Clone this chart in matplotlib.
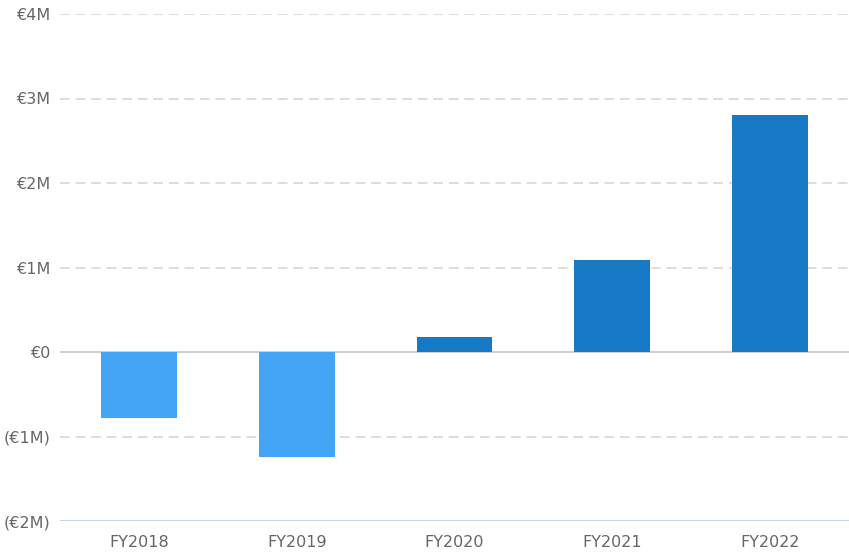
import matplotlib
matplotlib.use("Agg")
import matplotlib.pyplot as plt
from matplotlib.ticker import FuncFormatter

# Net result per fiscal year, millions of euros
years = ["FY2018", "FY2019", "FY2020", "FY2021", "FY2022"]
values = [-0.78, -1.24, 0.18, 1.09, 2.80]

NEG_COLOR = "#42A5F5"
POS_COLOR = "#1579C5"
TEXT_COLOR = "#666666"

plt.rcParams["font.family"] = ["DejaVu Sans"]


def euro_millions(v, pos):
    if v == 0:
        return "€0"
    if v < 0:
        return f"(€{abs(v):.0f}M)"
    return f"€{v:.0f}M"


W, H = 849, 554
fig = plt.figure(figsize=(W / 100, H / 100), dpi=100)
ax = fig.add_axes([60 / W, 1 - 521 / H, 1 - 60 / W, (521 - 14) / H])

colors = [POS_COLOR if v >= 0 else NEG_COLOR for v in values]
ax.bar(range(len(years)), values, width=0.48, color=colors, zorder=3)

ax.set_ylim(-2, 4)
ax.set_xlim(-0.5, len(years) - 0.5)
ax.set_yticks(range(-2, 5))
ax.yaxis.set_major_formatter(FuncFormatter(euro_millions))
ax.set_xticks(range(len(years)))
ax.set_xticklabels(years)

# 격자: 점선, 0선과 바닥선은 실선
for y in range(-1, 5):
    if y == 0:
        continue
    ax.axhline(y, color="#dddddd", linestyle=(0, (5, 3)), linewidth=1.4, zorder=1)
ax.axhline(0, color="#d0d0d0", linewidth=1.5, zorder=2)
ax.axhline(-2, color="#c8d6e8", linewidth=1.5, zorder=2)

for s in ax.spines.values():
    s.set_visible(False)
ax.tick_params(axis="both", length=0, labelsize=11.5, colors=TEXT_COLOR)
ax.tick_params(axis="y", pad=7)
ax.tick_params(axis="x", pad=10)

fig.savefig("out.png", dpi=100, facecolor="white")
